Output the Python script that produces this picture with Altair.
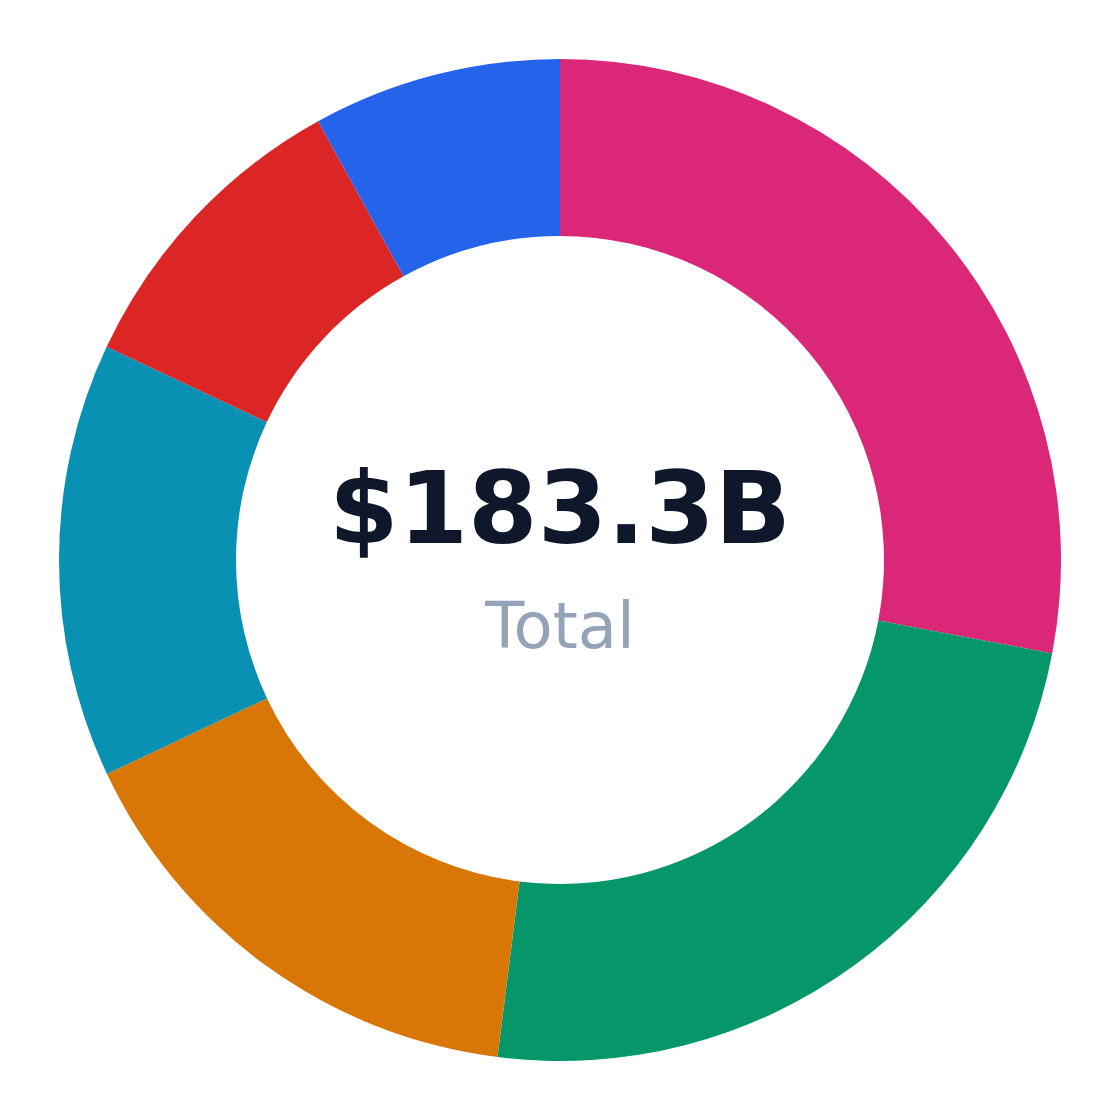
import altair as alt
import pandas as pd

categories = ["Segment A", "Segment B", "Segment C", "Segment D", "Segment E", "Segment F"]
values = [51.3, 44.0, 29.3, 25.7, 18.3, 14.7]
colors = ["#db2777", "#059669", "#d97706", "#0891b2", "#dc2626", "#2563eb"]
total_label = "$183.3B"
sub_label = "Total"

df = pd.DataFrame({"category": categories, "value": values, "order": list(range(len(values)))})

W = 1104
H = 1104

arcs = alt.Chart(df).mark_arc(outerRadius=501, innerRadius=324, stroke=None).encode(
    theta=alt.Theta("value:Q", stack=True),
    order=alt.Order("order:Q"),
    color=alt.Color("category:N", scale=alt.Scale(domain=categories, range=colors), legend=None),
)

center = pd.DataFrame({"t": [total_label]})
main_text = alt.Chart(center).mark_text(
    font="DejaVu Sans", fontSize=100, fontWeight="bold", color="#0f172a",
    baseline="alphabetic", align="center", dy=-17,
).encode(text="t:N", x=alt.value(W / 2), y=alt.value(H / 2))

sub = pd.DataFrame({"t": [sub_label]})
sub_text = alt.Chart(sub).mark_text(
    font="DejaVu Sans", fontSize=64, color="#94a3b8",
    baseline="alphabetic", align="center", dy=88,
).encode(text="t:N", x=alt.value(W / 2), y=alt.value(H / 2))

chart = alt.layer(arcs, main_text, sub_text).properties(
    width=W, height=H, padding=0
).configure_view(stroke=None)

chart.save("out.html", embed_options={"renderer": "svg", "actions": False})
